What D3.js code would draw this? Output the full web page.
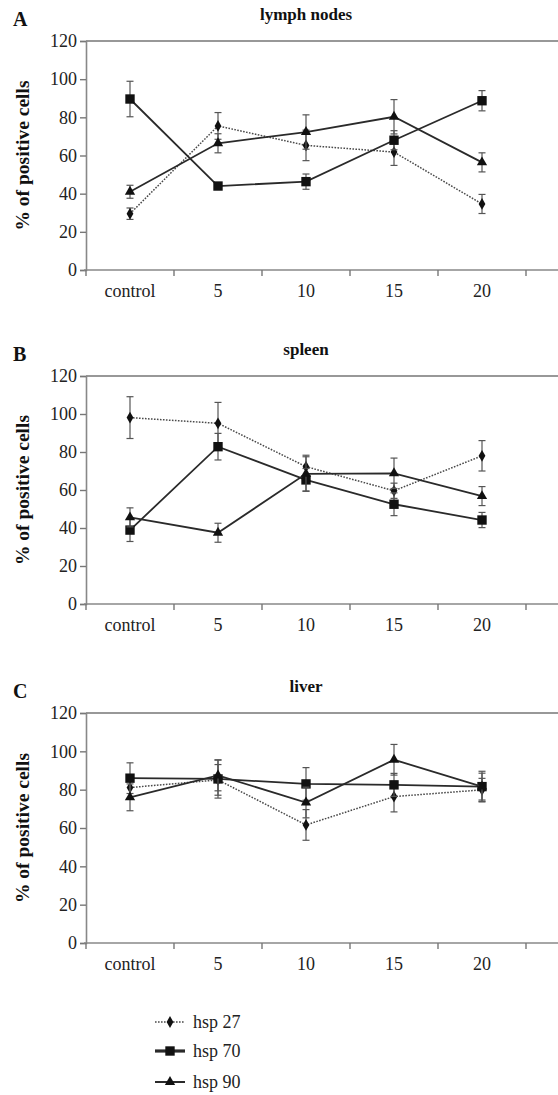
<!DOCTYPE html>
<html>
<head>
<meta charset="utf-8">
<script src="https://cdn.jsdelivr.net/npm/d3@7"></script>
<style>
  body { margin: 0; background: #fff; }
</style>
</head>
<body>
<svg id="chart" width="558" height="1095"></svg>
<script>
let width = 558;
let height = 1095;

let categories = ["control", "5", "10", "15", "20"];
let yTicks = [0, 20, 40, 60, 80, 100, 120];
let seriesNames = ["hsp 27", "hsp 70", "hsp 90"];

// lymph nodes
let lymphHsp27 = [29.5, 75.5, 65.3, 61.8, 34.6];
let lymphHsp27Err = [3, 7, 8, 7, 5];
let lymphHsp70 = [89.6, 44, 46.3, 68, 88.7];
let lymphHsp70Err = [9.3, 1.5, 4, 5, 5.3];
let lymphHsp90 = [41, 66.4, 72.3, 80.3, 56.4];
let lymphHsp90Err = [3.4, 5, 9, 9, 5];

// spleen
let spleenHsp27 = [98.1, 95.1, 72.3, 59.6, 78];
let spleenHsp27Err = [11, 11, 6, 4, 8];
let spleenHsp70 = [38.9, 82.8, 65.3, 52.5, 44.2];
let spleenHsp70Err = [6, 7, 6, 6, 4];
let spleenHsp90 = [45.6, 37.5, 68.5, 68.8, 56.8];
let spleenHsp90Err = [5, 5, 9, 8, 5];

// liver
let liverHsp27 = [81.1, 85.1, 61.6, 76.4, 79.9];
let liverHsp27Err = [6, 8, 8, 8, 6];
let liverHsp70 = [86, 85.6, 83, 82.5, 81.6];
let liverHsp70Err = [8, 10, 8.5, 6, 8];
let liverHsp90 = [76, 87.4, 73.3, 95.6, 81.6];
let liverHsp90Err = [7, 8, 8, 8, 7];

let panels = [
  {letter: "A", title: "lymph nodes", top: 41, bottom: 270,
   series: [[lymphHsp27, lymphHsp27Err], [lymphHsp70, lymphHsp70Err], [lymphHsp90, lymphHsp90Err]]},
  {letter: "B", title: "spleen", top: 376, bottom: 604,
   series: [[spleenHsp27, spleenHsp27Err], [spleenHsp70, spleenHsp70Err], [spleenHsp90, spleenHsp90Err]]},
  {letter: "C", title: "liver", top: 713, bottom: 943,
   series: [[liverHsp27, liverHsp27Err], [liverHsp70, liverHsp70Err], [liverHsp90, liverHsp90Err]]}
];

let styles = [
  {color: "#4a4a4a", width: 1.5, dash: "1.6,1.4", marker: "diamond", size: 40, legendWidth: 1.5},
  {color: "#2a2a2a", width: 1.8, dash: null, marker: "square", size: 88, legendWidth: 3.2},
  {color: "#2a2a2a", width: 1.8, dash: null, marker: "triangle", size: 46, legendWidth: 2}
];

let symbolTypes = {diamond: d3.symbolDiamond, square: d3.symbolSquare, triangle: d3.symbolTriangle};

let x = d3.scaleBand().domain(categories).range([86, 526]).paddingInner(0).paddingOuter(0);

let svg = d3.select("#chart");

panels.forEach(function(p){
  let y = d3.scaleLinear().domain([0, 120]).range([p.bottom, p.top]);
  let g = svg.append("g");

  // panel letter and title
  g.append("text").attr("x", 13).attr("y", p.top - 15)
   .style("font-size", "20px").style("font-weight", "bold").attr("fill", "#111").text(p.letter);
  g.append("text").attr("x", 306).attr("y", p.top - 21).attr("text-anchor", "middle")
   .style("font-size", "17px").style("font-weight", "bold").attr("fill", "#111").text(p.title);

  // top frame line
  g.append("line").attr("x1", 86).attr("x2", width).attr("y1", p.top).attr("y2", p.top)
   .attr("stroke", "#333").attr("stroke-width", 1.2);

  // y axis
  let yAxis = g.append("g").attr("transform", "translate(86,0)")
    .call(d3.axisLeft(y).tickValues(yTicks).tickSize(6).tickPadding(3));
  yAxis.select(".domain").attr("stroke", "#888").attr("stroke-width", 1.6);
  yAxis.selectAll(".tick line").attr("stroke", "#777").attr("stroke-width", 1.4);
  yAxis.selectAll(".tick text").style("font-size", "18px").attr("fill", "#222");

  // x axis
  let xAxis = g.append("g").attr("transform", `translate(0,${p.bottom})`)
    .call(d3.axisBottom(x).tickSize(0).tickPadding(14));
  xAxis.select(".domain").remove();
  xAxis.selectAll(".tick text").style("font-size", "18px").attr("fill", "#222");
  g.append("line").attr("x1", 84).attr("x2", width).attr("y1", p.bottom).attr("y2", p.bottom)
   .attr("stroke", "#888").attr("stroke-width", 1.6);
  let bounds = categories.map(c => x(c)).concat([x(categories[categories.length - 1]) + x.bandwidth()]);
  g.selectAll(".xtick").data(bounds).enter().append("line")
   .attr("x1", d => d).attr("x2", d => d)
   .attr("y1", p.bottom).attr("y2", p.bottom + 6)
   .attr("stroke", "#777").attr("stroke-width", 1.4);

  // y axis title
  g.append("text")
   .attr("transform", `translate(29,${(p.top + p.bottom) / 2}) rotate(-90)`)
   .attr("text-anchor", "middle")
   .style("font-size", "19.5px").style("font-weight", "bold").attr("fill", "#111")
   .text("% of positive cells");

  let cx = c => x(c) + x.bandwidth() / 2;

  p.series.forEach(function(s, i){
    let st = styles[i];
    let pts = categories.map((c, k) => ({c: c, v: s[0][k], e: s[1][k]}));

    // error bars
    let eb = g.append("g").attr("stroke", "#555").attr("stroke-width", 1.2);
    eb.selectAll(".v").data(pts).enter().append("line")
      .attr("x1", d => cx(d.c)).attr("x2", d => cx(d.c))
      .attr("y1", d => y(d.v - d.e)).attr("y2", d => y(d.v + d.e));
    eb.selectAll(".t").data(pts).enter().append("line")
      .attr("x1", d => cx(d.c) - 3.5).attr("x2", d => cx(d.c) + 3.5)
      .attr("y1", d => y(d.v + d.e)).attr("y2", d => y(d.v + d.e));
    eb.selectAll(".b").data(pts).enter().append("line")
      .attr("x1", d => cx(d.c) - 3.5).attr("x2", d => cx(d.c) + 3.5)
      .attr("y1", d => y(d.v - d.e)).attr("y2", d => y(d.v - d.e));

    let line = d3.line().x(d => cx(d.c)).y(d => y(d.v));
    g.append("path").datum(pts).attr("d", line)
     .attr("fill", "none").attr("stroke", st.color).attr("stroke-width", st.width)
     .attr("stroke-dasharray", st.dash);

    g.selectAll(".m" + i).data(pts).enter().append("path")
     .attr("d", d3.symbol().type(symbolTypes[st.marker]).size(st.size))
     .attr("transform", d => `translate(${cx(d.c)},${y(d.v)})`)
     .attr("fill", "#111");
  });
});

// legend
let legendY = [1022, 1051, 1082];
seriesNames.forEach(function(name, i){
  let st = styles[i];
  let lg = svg.append("g").attr("transform", `translate(155,${legendY[i]})`);
  lg.append("line").attr("x1", 0).attr("x2", 30).attr("y1", 0).attr("y2", 0)
    .attr("stroke", st.color).attr("stroke-width", st.legendWidth).attr("stroke-dasharray", st.dash);
  lg.append("path").attr("d", d3.symbol().type(symbolTypes[st.marker]).size(st.size))
    .attr("transform", "translate(15,0)").attr("fill", "#111");
  lg.append("text").attr("x", 38).attr("y", 6).style("font-size", "18px").attr("fill", "#222").text(name);
});

// every text in the same serif face
svg.selectAll("text").style("font-family", "'Liberation Serif'");
</script>
</body>
</html>
